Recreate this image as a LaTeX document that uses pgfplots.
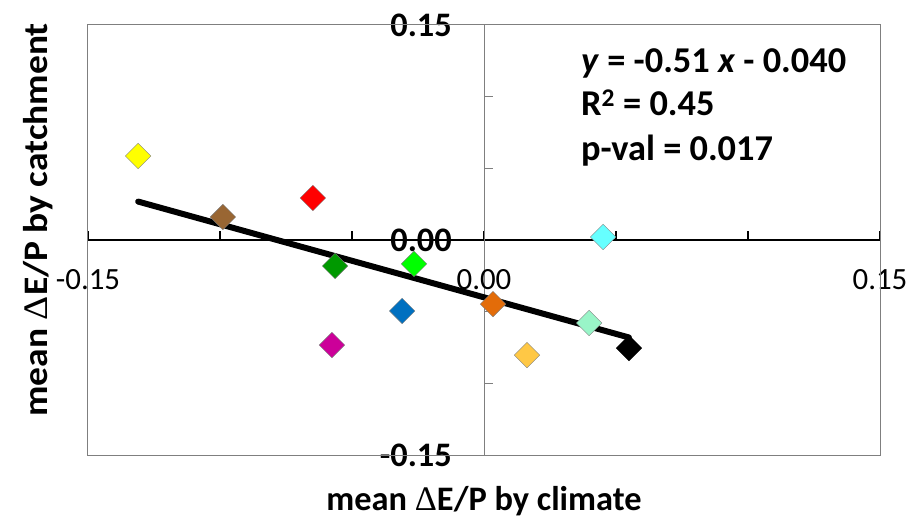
\documentclass[border=0pt]{standalone}
\usepackage{pgfplots}
\pgfplotsset{compat=1.18}
\usepackage{fontspec}
\setmainfont{Carlito}
\newfontfamily\symfnt{Liberation Serif}
\definecolor{cYel}{HTML}{FFFF00}
\definecolor{cBrn}{HTML}{996633}
\definecolor{cRed}{HTML}{FF0000}
\definecolor{cDgr}{HTML}{009900}
\definecolor{cGrn}{HTML}{00FF00}
\definecolor{cBlu}{HTML}{0070C0}
\definecolor{cMag}{HTML}{CC0099}
\definecolor{cOrg}{HTML}{E36C09}
\definecolor{cLor}{HTML}{FFC845}
\definecolor{cAqu}{HTML}{99F5C8}
\definecolor{cCya}{HTML}{66FFFF}
\definecolor{edge}{HTML}{7F7F7F}
\newcommand{\bigfs}{\fontsize{34.5}{40}\selectfont}
\newcommand{\annfs}{\fontsize{36.5}{42}\selectfont}
\newcommand{\Dlt}{{\symfnt\mdseries Δ}}
\begin{document}
\begin{tikzpicture}
\useasboundingbox (-88bp,-67bp) rectangle (821bp,455bp);
\begin{axis}[
  at={(0,0)}, anchor=south west,
  scale only axis, width=792bp, height=430bp,
  xmin=-0.15, xmax=0.15, ymin=-0.15, ymax=0.15,
  axis lines=middle,
  x axis line style={black, line width=1.4bp, -},
  y axis line style={edge, line width=1bp, -},
  xtick={-0.15,-0.1,-0.05,0,0.05,0.1,0.15},
  xticklabels={-0.15,,,0.00,,,0.15},
  ytick={-0.15,-0.1,-0.05,0,0.05,0.1,0.15},
  yticklabels={-0.15,,,0.00,,,0.15},
  tick align=inside,
  major tick length=9bp,
  x tick style={black, line width=1.2bp},
  y tick style={edge, line width=1bp},
  hide obscured x ticks=false,
  hide obscured y ticks=false,
  xticklabel style={anchor=base, inner sep=0pt, yshift=-50bp, font=\fontsize{31}{36}\selectfont},
  yticklabel style={anchor=east, inner sep=0pt, xshift=-32bp, font=\bfseries\bigfs},
  clip=false,
  mark size=9bp,
]
\draw[edge, line width=1bp] (rel axis cs:0,0) rectangle (rel axis cs:1,1);
\addplot[only marks, mark=square*, mark options={rotate=45, fill=cYel, draw=edge}] coordinates {(-0.131,0.0586)};
\addplot[only marks, mark=square*, mark options={rotate=45, fill=cBrn, draw=edge}] coordinates {(-0.0989,0.0160)};
\addplot[only marks, mark=square*, mark options={rotate=45, fill=cRed, draw=edge}] coordinates {(-0.0648,0.0293)};
\addplot[only marks, mark=square*, mark options={rotate=45, fill=cDgr, draw=edge}] coordinates {(-0.0564,-0.0181)};
\addplot[only marks, mark=square*, mark options={rotate=45, fill=cGrn, draw=edge}] coordinates {(-0.0265,-0.0167)};
\addplot[only marks, mark=square*, mark options={rotate=45, fill=cBlu, draw=edge}] coordinates {(-0.0310,-0.0495)};
\addplot[only marks, mark=square*, mark options={rotate=45, fill=cMag, draw=edge}] coordinates {(-0.0576,-0.0733)};
\addplot[only marks, mark=square*, mark options={rotate=45, fill=cOrg, draw=edge}] coordinates {(0.0034,-0.0447)};
\addplot[only marks, mark=square*, mark options={rotate=45, fill=cLor, draw=edge}] coordinates {(0.0163,-0.0803)};
\addplot[only marks, mark=square*, mark options={rotate=45, fill=cAqu, draw=edge}] coordinates {(0.0398,-0.0579)};
\addplot[only marks, mark=square*, mark options={rotate=45, fill=cCya, draw=edge}] coordinates {(0.0451,0.0021)};
\addplot[only marks, mark=square*, mark options={rotate=45, fill=black, draw=black}] coordinates {(0.0549,-0.0754)};
\addplot[black, line width=6bp, line cap=round, no marks] coordinates {(-0.131,0.02681) (0.0549,-0.06800)};
\node[anchor=base west, inner sep=0pt, font=\bfseries\annfs] at (axis cs:0.0367,0.1172) {\textit{y} = -0.51 \textit{x} - 0.040};
\node[anchor=base west, inner sep=0pt, font=\bfseries\annfs] at (axis cs:0.0367,0.0872) {R\textsuperscript{2} = 0.45};
\node[anchor=base west, inner sep=0pt, font=\bfseries\annfs] at (axis cs:0.0367,0.0558) {p-val = 0.017};
\node[anchor=base, inner sep=0pt, font=\bfseries\bigfs] at ([yshift=-55bp]rel axis cs:0.5,0) {mean \Dlt E/P by climate};
\node[anchor=base, inner sep=0pt, rotate=90, xscale=1.09, font=\bfseries\bigfs] at ([xshift=-40bp]rel axis cs:0,0.547) {mean \Dlt E/P by catchment};
\end{axis}
\end{tikzpicture}
\end{document}
